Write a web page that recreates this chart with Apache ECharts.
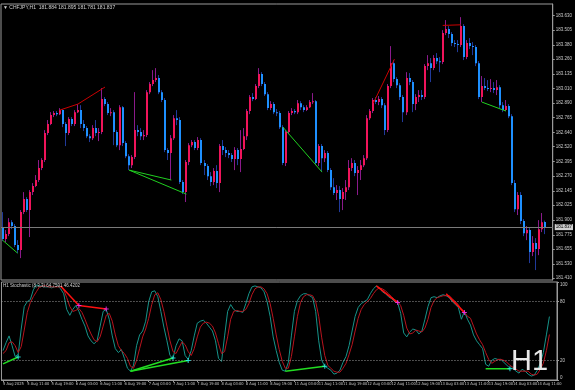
<!DOCTYPE html>
<html><head><meta charset="utf-8">
<script src="https://cdn.jsdelivr.net/npm/echarts@6/dist/echarts.min.js"></script>
<style>html,body{margin:0;padding:0;background:#000}#c{width:575px;height:390px}</style>
</head><body><div id="c"></div>
<script>
const symbolName = 'CHFJPY,H1';
const headerValues = ['181.884', '181.895', '181.781', '181.837'];
const stochName = 'H1 Stochastic (8,3,3)';
const timeframeMark = 'H1';

const xTickLabels = ['5 Aug 2025','5 Aug 11:00','5 Aug 19:00','6 Aug 03:00','6 Aug 11:00','6 Aug 19:00','7 Aug 03:00','7 Aug 11:00','7 Aug 19:00','8 Aug 03:00','8 Aug 11:00','8 Aug 19:00','11 Aug 03:00','11 Aug 11:00','11 Aug 19:00','12 Aug 03:00','12 Aug 11:00','12 Aug 19:00','13 Aug 03:00','13 Aug 11:00','13 Aug 19:00','14 Aug 03:00','14 Aug 11:00'];
const priceTickLabels = ['183.630','183.505','183.380','183.260','183.135','183.010','182.890','182.765','182.640','182.520','182.395','182.270','182.145','182.025','181.900','181.775','181.655','181.530','181.410'];
const stochTickLabels = ['0','20','80','100'];

const opens = [181.840,181.739,181.781,181.882,181.849,181.688,181.646,181.967,182.077,181.984,
182.136,182.187,182.238,182.339,182.407,182.635,182.711,182.787,182.804,182.795,
182.829,182.711,182.635,182.753,182.711,182.812,182.829,182.711,182.677,182.609,
182.592,182.677,182.635,182.643,182.922,182.880,182.804,182.812,182.643,182.533,
182.854,182.550,182.440,182.364,182.432,182.660,182.643,182.609,182.618,182.981,
183.049,183.083,183.100,182.981,182.914,182.491,182.466,182.592,182.761,182.745,
182.221,182.136,182.390,182.533,182.559,182.508,182.576,182.381,182.356,182.271,
182.221,182.314,182.212,182.525,182.491,182.466,182.449,182.415,182.491,182.415,
182.500,182.609,182.821,182.939,182.922,183.032,183.134,183.049,182.964,182.846,
182.880,182.812,182.804,182.685,182.381,182.643,182.804,182.821,182.812,182.888,
182.854,182.829,182.854,182.897,182.905,182.381,182.525,182.423,182.466,182.322,
182.178,182.128,182.153,182.077,182.136,182.178,182.339,182.381,182.297,182.322,
182.364,182.423,182.761,182.821,182.914,182.897,182.922,182.871,182.660,183.032,
183.226,183.091,183.040,182.939,182.812,183.100,183.066,182.880,182.939,182.956,
182.939,183.201,183.226,183.184,183.269,183.243,183.235,183.480,183.514,183.472,
183.396,183.387,183.379,183.539,183.277,183.396,183.370,183.362,183.226,182.939,
183.032,183.015,183.007,183.015,182.998,183.023,182.871,182.829,182.863,182.778,
182.212,181.992,182.111,181.891,181.789,181.815,181.629,181.705,181.654,181.823,
181.884];
const closes = [181.739,181.781,181.882,181.849,181.688,181.646,181.967,182.077,181.984,182.136,
182.187,182.238,182.339,182.407,182.635,182.711,182.787,182.804,182.795,182.829,
182.711,182.635,182.753,182.711,182.812,182.829,182.711,182.677,182.609,182.592,
182.677,182.635,182.643,182.922,182.880,182.804,182.812,182.643,182.533,182.854,
182.550,182.440,182.364,182.432,182.660,182.643,182.609,182.618,182.981,183.049,
183.083,183.100,182.981,182.914,182.491,182.466,182.592,182.761,182.745,182.221,
182.136,182.390,182.533,182.559,182.508,182.576,182.381,182.356,182.271,182.221,
182.314,182.212,182.525,182.491,182.466,182.449,182.415,182.491,182.415,182.500,
182.609,182.821,182.939,182.922,183.032,183.134,183.049,182.964,182.846,182.880,
182.812,182.804,182.685,182.381,182.643,182.804,182.821,182.812,182.888,182.854,
182.829,182.854,182.897,182.905,182.381,182.525,182.423,182.466,182.322,182.178,
182.128,182.153,182.077,182.136,182.178,182.339,182.381,182.297,182.322,182.364,
182.423,182.761,182.821,182.914,182.897,182.922,182.871,182.660,183.032,183.226,
183.091,183.040,182.939,182.812,183.100,183.066,182.880,182.939,182.956,182.939,
183.201,183.226,183.184,183.269,183.243,183.235,183.480,183.514,183.472,183.396,
183.387,183.379,183.539,183.277,183.396,183.370,183.362,183.226,182.939,183.032,
183.015,183.007,183.015,182.998,183.023,182.871,182.829,182.863,182.778,182.212,
181.992,182.111,181.891,181.789,181.815,181.629,181.705,181.654,181.823,181.882,
181.837];
const highs = [181.967,181.815,181.916,181.899,181.866,181.730,181.984,182.136,182.094,182.153,
182.212,182.280,182.407,182.423,182.660,182.745,182.812,182.821,182.821,182.846,
182.838,182.728,182.770,182.770,182.829,182.880,182.871,182.745,182.694,182.626,
182.702,182.745,182.677,183.015,182.939,182.897,182.846,182.829,182.660,182.871,
182.863,182.567,182.457,182.449,182.981,182.702,182.677,182.660,182.998,183.066,
183.167,183.184,183.125,182.998,182.931,182.508,182.618,182.787,182.829,182.770,
182.238,182.407,182.550,182.576,182.576,182.601,182.592,182.407,182.373,182.305,
182.339,182.364,182.542,182.576,182.516,182.491,182.466,182.516,182.508,182.660,
182.677,182.838,182.956,182.973,183.049,183.184,183.150,183.066,182.981,182.905,
182.897,182.838,182.821,182.702,182.660,182.821,182.846,182.838,182.914,182.905,
182.871,182.871,182.914,182.973,182.914,182.542,182.542,182.491,182.483,182.339,
182.254,182.195,182.187,182.170,182.238,182.407,182.423,182.407,182.356,182.407,
182.449,182.787,182.838,182.931,182.939,182.948,182.939,182.888,183.049,183.370,
183.252,183.108,183.057,182.956,183.150,183.142,183.083,182.964,182.998,182.998,
183.218,183.294,183.269,183.294,183.311,183.277,183.505,183.590,183.539,183.488,
183.421,183.421,183.615,183.556,183.421,183.438,183.404,183.379,183.243,183.117,
183.100,183.083,183.091,183.066,183.083,183.040,182.897,182.914,182.880,182.795,
182.238,182.136,182.136,181.908,181.849,181.832,181.764,181.747,181.899,181.959,
181.895];
const lows = [181.722,181.713,181.764,181.823,181.671,181.620,181.578,181.950,181.967,181.756,
182.111,182.178,182.221,182.322,182.390,182.618,182.702,182.770,182.778,182.787,
182.685,182.525,182.618,182.694,182.694,182.804,182.677,182.652,182.592,182.559,
182.576,182.609,182.567,182.626,182.863,182.787,182.778,182.533,182.516,182.491,
182.525,182.423,182.322,182.339,182.415,182.609,182.576,182.576,182.601,182.964,
183.032,183.066,182.964,182.897,182.474,182.407,182.238,182.576,182.702,182.204,
182.119,182.052,182.364,182.516,182.491,182.491,182.364,182.280,182.238,182.187,
182.195,182.170,182.136,182.449,182.432,182.423,182.390,182.322,182.364,182.305,
182.491,182.576,182.795,182.905,182.914,183.015,183.032,182.948,182.829,182.829,
182.795,182.778,182.669,182.364,182.356,182.626,182.787,182.795,182.795,182.829,
182.812,182.821,182.846,182.880,182.364,182.356,182.305,182.390,182.305,182.153,
182.111,182.069,181.967,181.984,182.069,182.153,182.314,182.271,182.111,182.238,
182.347,182.407,182.745,182.804,182.880,182.871,182.846,182.618,182.643,183.015,
183.066,183.015,182.914,182.728,182.787,183.040,182.812,182.829,182.897,182.914,
182.922,183.167,183.066,183.167,183.218,183.150,183.218,183.463,183.438,183.370,
183.362,183.319,183.362,183.252,183.260,183.345,183.294,183.201,182.922,182.897,
182.998,182.990,182.981,182.973,182.956,182.846,182.812,182.821,182.761,182.195,
181.967,181.942,181.866,181.764,181.730,181.536,181.595,181.477,181.603,181.798,
181.781];

const stochK = [30,38,45,35,24,26,52,75,80,82,
92,97,96,96,95,95,94,95,96,93,
88,72,66,72,76,70,62,55,45,40,
37,40,55,70,72,62,45,32,28,31,
22,12,9,15,35,46,50,60,80,90,
91,85,70,54,40,25,22,35,42,40,
25,21,30,45,58,60,61,58,54,50,
40,22,19,45,70,77,72,70,70,69,
78,88,95,96,95,94,90,80,65,44,
30,18,10,9,18,45,70,81,86,88,
88,86,84,70,40,20,14,12,10,6,
7,10,18,24,35,50,65,74,78,80,
82,88,93,96,94,90,88,85,83,80,
79,68,48,44,49,52,51,47,50,62,
75,84,85,84,86,87,86,84,80,77,
74,62,70,62,56,46,40,36,32,16,
14,20,22,21,21,18,15,12,12,9,
7,11,9,6,4,5,10,17,28,46,64.7591];
const stochD = [27,30,38,39,35,28,34,51,69,79,
85,90,95,96,96,95,95,95,95,95,
92,84,75,70,71,73,69,62,54,47,
41,39,44,55,66,68,60,46,35,30,
27,22,14,12,20,32,44,52,63,77,
87,89,82,70,55,40,29,27,33,39,
36,29,25,32,44,54,58,59,58,55,
48,37,27,29,44,62,70,71,70,70,
72,78,87,93,95,95,93,88,78,63,
46,31,19,12,12,24,44,65,79,85,
87,87,86,80,65,43,25,15,12,9,
8,8,12,17,26,36,50,63,72,77,
80,83,88,92,94,93,91,88,85,82,
80,76,66,53,47,48,51,50,49,53,
62,74,81,84,85,86,86,86,83,80,
77,71,69,65,63,55,47,41,36,28,
21,17,19,21,21,20,18,15,13,11,
9,9,9,9,6,5,6,11,17,30,46.4202];

// divergence trend lines: [barIndex, value]
const priceRedLines = [[[19,182.829],[25,182.880],[34,183.024]], [[123,182.888],[130,183.260]], [[146,183.545],[152,183.550]]];
const priceGreenLines = [[[0,181.730],[5,181.620]], [[42,182.322],[56,182.238]], [[42,182.322],[61,182.119]], [[93,182.685],[106,182.305]], [[159,182.897],[167,182.821]]];
const stochRedLines = [[[19,96],[25,76],[34,72.5]], [[123,96],[130,79]], [[146,88],[152,69]]];
const stochGreenLines = [[[0,16.5],[5,23.5]], [[42,9],[56,22.5]], [[42,9],[61,20]], [[93,9],[106,14]], [[159,11.5],[167,11.5]]];

const BULL = '#f0145a', BEAR = '#1e90ff', WICK_UP = '#8b1a8b', WICK_DN = '#203a9a';
const FONT = 'Liberation Sans';
const NARROW = "'Liberation Sans Narrow', 'DejaVu Sans Condensed', 'Liberation Sans', sans-serif";
const padBars = 2;
const categories = Array.from({length: closes.length + padBars}, (_, i) => String(i));
const candleData = closes.map((c, i) => [i, opens[i], c, lows[i], highs[i]]);
const lastClose = closes[closes.length - 1];

function renderCandle(params, api) {
  const i = api.value(0), o = api.value(1), c = api.value(2), l = api.value(3), h = api.value(4);
  const po = api.coord([i, o]), pc = api.coord([i, c]), pl = api.coord([i, l]), ph = api.coord([i, h]);
  const cx = Math.round(po[0]);
  const bull = c >= o;
  const top = Math.min(po[1], pc[1]);
  const bh = Math.max(1, Math.abs(po[1] - pc[1]));
  return {type: 'group', children: [
    {type: 'line', shape: {x1: cx - 0.5, y1: ph[1], x2: cx - 0.5, y2: pl[1]}, style: {stroke: bull ? WICK_UP : WICK_DN, lineWidth: 1}},
    {type: 'rect', shape: {x: cx - 1, y: top, width: 2, height: bh}, style: {fill: bull ? BULL : BEAR}}
  ]};
}

function lineSeries(segs, color, xi, yi, width, endSymbol) {
  const out = [];
  segs.forEach(seg => {
    out.push({type: 'line', xAxisIndex: xi, yAxisIndex: yi, data: seg, showSymbol: false, symbol: 'none',
      lineStyle: {color: color, width: width}, silent: true, animation: false, z: 5});
    if (endSymbol) {
      const ends = seg.slice(1);
      out.push({type: 'scatter', xAxisIndex: xi, yAxisIndex: yi, data: ends, symbol: 'path://M4,0H6V4H10V6H6V10H4V6H0V4H4Z',
        symbolSize: 5, itemStyle: {color: endSymbol}, silent: true, animation: false, z: 6});
    }
  });
  return out;
}

const chart = echarts.init(document.getElementById('c'), null, {renderer: 'canvas'});
const labelStyle = {color: '#c8c8c8', fontSize: 4.5, fontFamily: FONT};
chart.setOption({
  backgroundColor: '#000',
  animation: false,
  grid: [
    {left: 1, right: 18, top: 4, height: 276, show: true, borderColor: '#9a9a9a', borderWidth: 1, backgroundColor: '#000'},
    {left: 1, right: 18, top: 282, height: 98, show: true, borderColor: '#9a9a9a', borderWidth: 1, backgroundColor: '#000'}
  ],
  xAxis: [
    {type: 'category', gridIndex: 0, data: categories, boundaryGap: true, axisLine: {show: false}, axisTick: {show: false}, axisLabel: {show: false}, splitLine: {show: false}},
    {type: 'category', gridIndex: 1, data: categories, boundaryGap: true,
      axisLine: {show: true, lineStyle: {color: '#9a9a9a'}},
      axisTick: {show: true, interval: 7, alignWithLabel: true, length: 2, lineStyle: {color: '#9a9a9a'}},
      axisLabel: {show: true, interval: 7, align: 'left', margin: 2, color: '#c8c8c8', fontSize: 4, fontFamily: NARROW,
        formatter: (v, idx) => (idx % 8 === 0 && xTickLabels[idx / 8]) ? xTickLabels[idx / 8] : ''},
      splitLine: {show: false}}
  ],
  yAxis: [
    {type: 'value', gridIndex: 0, position: 'right', min: 181.393, max: 183.726, scale: true,
      axisLine: {show: true, lineStyle: {color: '#9a9a9a'}},
      axisTick: {show: true, length: 2, customValues: priceTickLabels.map(Number), lineStyle: {color: '#9a9a9a'}},
      axisLabel: Object.assign({show: true, margin: 3, customValues: priceTickLabels.map(Number),
        formatter: v => priceTickLabels.find(t => Math.abs(Number(t) - v) < 1e-6) || v.toFixed(3)}, labelStyle),
      splitLine: {show: false}},
    {type: 'value', gridIndex: 1, position: 'right', min: 0, max: 100,
      axisLine: {show: true, lineStyle: {color: '#9a9a9a'}},
      axisTick: {show: true, length: 2, customValues: stochTickLabels.map(Number), lineStyle: {color: '#9a9a9a'}},
      axisLabel: Object.assign({show: true, margin: 3, customValues: stochTickLabels.map(Number),
        verticalAlignMaxLabel: 'top', verticalAlignMinLabel: 'bottom'}, labelStyle),
      splitLine: {show: false}}
  ],
  series: [
    {type: 'custom', xAxisIndex: 0, yAxisIndex: 0, data: candleData, renderItem: renderCandle, clip: true,
      encode: {x: 0, y: [1, 2, 3, 4]}, silent: true, z: 3,
      markLine: {silent: true, symbol: 'none', animation: false,
        data: [{yAxis: lastClose}],
        lineStyle: {color: '#7a7a7a', width: 1, type: 'solid'},
        label: {show: true, position: 'end', distance: 2, formatter: lastClose.toFixed(3), backgroundColor: '#d0d0d0',
          color: '#000', fontSize: 4.5, fontFamily: FONT, padding: [1, 1, 0, 1]}}},
    {type: 'line', xAxisIndex: 1, yAxisIndex: 1, data: stochK, showSymbol: false, symbol: 'none',
      lineStyle: {color: '#16948a', width: 1}, silent: true, z: 3,
      markLine: {silent: true, symbol: 'none', animation: false, label: {show: false},
        lineStyle: {color: '#9a9a9a', width: 1, type: [1, 2]},
        data: [{yAxis: 20}, {yAxis: 80}]}},
    {type: 'line', xAxisIndex: 1, yAxisIndex: 1, data: stochD, showSymbol: false, symbol: 'none',
      lineStyle: {color: '#b8141e', width: 1}, silent: true, z: 3},
    ...lineSeries(priceRedLines, '#cc0000', 0, 0, 1, null),
    ...lineSeries(priceGreenLines, '#20d020', 0, 0, 1, null),
    ...lineSeries(stochRedLines, '#ff1010', 1, 1, 1.5, '#ff30ff'),
    ...lineSeries(stochGreenLines, '#22dd22', 1, 1, 1.5, '#30ffff')
  ],
  graphic: [
    {type: 'text', left: 3, top: 5, silent: true, z: 10,
      style: {text: '\u25BC ' + symbolName + '  ' + headerValues.join(' '), fill: '#d0d0d0', fontSize: 5, fontFamily: FONT}},
    {type: 'text', left: 3, top: 283, silent: true, z: 10,
      style: {text: stochName + ' ' + stochK[stochK.length - 1].toFixed(4) + ' ' + stochD[stochD.length - 1].toFixed(4), fill: '#d0d0d0', fontSize: 4.5, fontFamily: FONT}},
    {type: 'text', left: 511, top: 347, silent: true, z: 10,
      style: {text: timeframeMark, fill: '#e8e8e8', fontSize: 29, fontFamily: FONT}}
  ]
});
</script>
</body></html>
